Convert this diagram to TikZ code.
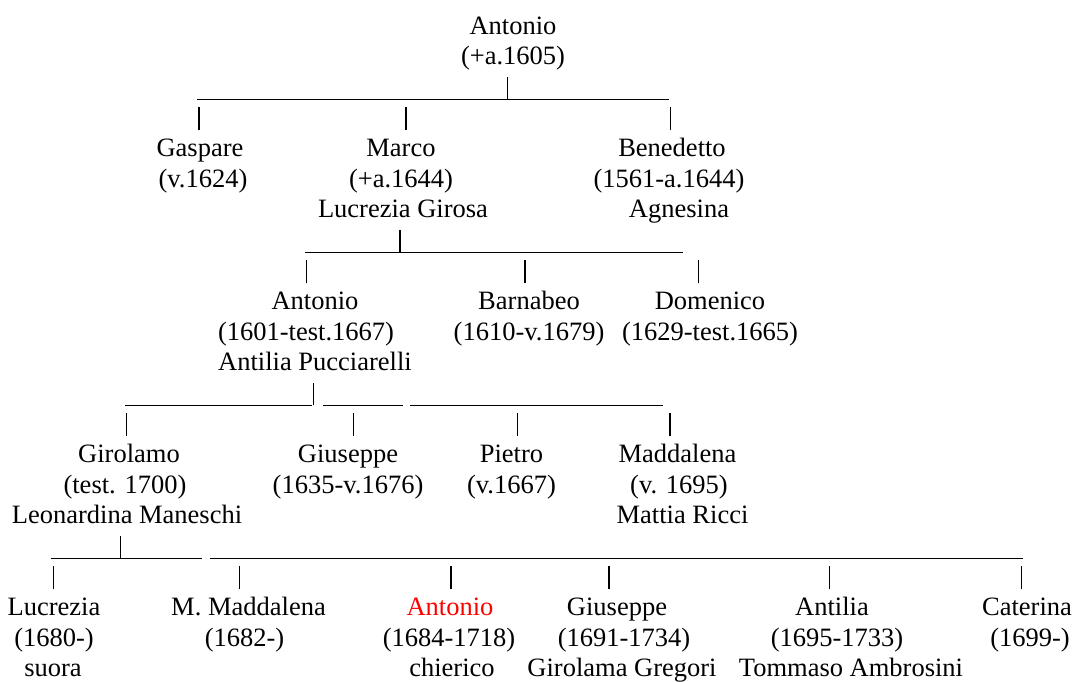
\documentclass[tikz,border=0pt]{standalone}
\usepackage{fontspec}
\setmainfont{Liberation Serif}
\newcommand{\Ln}[2]{\makebox[0pt]{\hspace*{#1bp}\hspace*{#1bp}\rule{0pt}{22bp}#2}}
\tikzset{
  person/.style={anchor=north, align=center, inner sep=0pt,
    font=\fontsize{26.5bp}{30.6bp}\selectfont},
  bar/.style={line width=1.2bp, black},
}
\begin{document}
\begin{tikzpicture}[x=1bp, y=-1bp]
\useasboundingbox (0,0) rectangle (1075,682);
\fill[white] (0,0) rectangle (1075,682);

% ---------- generation 0
\node[person] (root) at (513,12) {\Ln{0}{Antonio}\\\Ln{0}{(+a.1605)}};
\coordinate (j1) at (507.3,99.3);
\coordinate (h1l) at (197,99.3);
\coordinate (h1r) at (669,99.3);
\draw[bar] (h1l) -- (h1r);
\draw[bar] (j1) -- ++(0,-22);

% ---------- generation 1
\node[person] (gaspare) at (201,134.3) {\Ln{-1}{Gaspare}\\\Ln{2}{(v.1624)}};
\node[person] (marco) at (401,134.3) {\Ln{0}{Marco}\\\Ln{0}{(+a.1644)}\\\Ln{2}{Lucrezia Girosa}};
\node[person] (benedetto) at (672,134.3) {\Ln{0}{Benedetto}\\\Ln{-3}{(1561-a.1644)}\\\Ln{7}{Agnesina}};
\draw[bar] (gaspare.north) ++(-2,-4) -- ++(0,-23);
\draw[bar] (marco.north) ++(5,-4) -- ++(0,-23);
\draw[bar] (benedetto.north) ++(-1.3,-4) -- ++(0,-23);

\coordinate (j2) at (400,252.3);
\coordinate (h2l) at (305,252.3);
\coordinate (h2r) at (683.3,252.3);
\draw[bar] (h2l) -- (h2r);
\draw[bar] (j2) -- ++(0,-22);

% ---------- generation 2
\node[person] (antonio2) at (312,287.3) {\Ln{3}{Antonio}\\\Ln{-6}{(1601-test.1667)}\\\Ln{3}{Antilia Pucciarelli}};
\node[person] (barnabeo) at (529,287.3) {\Ln{0}{Barnabeo}\\\Ln{0}{(1610-v.1679)}};
\node[person] (domenico) at (710,287.3) {\Ln{0}{Domenico}\\\Ln{0}{(1629-test.1665)}};
\draw[bar] (antonio2.north) ++(-5.3,-4) -- ++(0,-23);
\draw[bar] (barnabeo.north) ++(-4,-4) -- ++(0,-23);
\draw[bar] (domenico.north) ++(-11.7,-4) -- ++(0,-23);

\coordinate (j3) at (313.3,405.3);
\coordinate (h3a) at (125,405.3);
\coordinate (h3b) at (311.7,405.3);
\coordinate (h3c) at (323.3,405.3);
\coordinate (h3d) at (403.3,405.3);
\coordinate (h3e) at (410,405.3);
\coordinate (h3f) at (663.3,405.3);
\draw[bar] (h3a) -- (h3b);
\draw[bar] (h3c) -- (h3d);
\draw[bar] (h3e) -- (h3f);
\draw[bar] (j3) -- ++(0,-22);

% ---------- generation 3
\node[person] (girolamo) at (127,440.3) {\Ln{2}{Girolamo}\\\Ln{-2}{(test. 1700)}\\\Ln{0}{Leonardina Maneschi}};
\node[person] (giuseppe1) at (348,440.3) {\Ln{0}{Giuseppe}\\\Ln{0}{(1635-v.1676)}};
\node[person] (pietro) at (511.5,440.3) {\Ln{0}{Pietro}\\\Ln{0}{(v.1667)}};
\node[person] (maddalena) at (679,440.3) {\Ln{-1.5}{Maddalena}\\\Ln{0}{(v. 1695)}\\\Ln{3.5}{Mattia Ricci}};
\draw[bar] (girolamo.north) ++(-0.3,-4) -- ++(0,-23);
\draw[bar] (giuseppe1.north) ++(5.3,-4) -- ++(0,-23);
\draw[bar] (pietro.north) ++(6.2,-4) -- ++(0,-23);
\draw[bar] (maddalena.north) ++(-9,-4) -- ++(0,-23);

\coordinate (j4) at (120.7,558.3);
\coordinate (h4a) at (50.7,558.3);
\coordinate (h4b) at (201.7,558.3);
\coordinate (h4c) at (210,558.3);
\coordinate (h4d) at (1023,558.3);
\draw[bar] (h4a) -- (h4b);
\draw[bar] (h4c) -- (h4d);
\draw[bar] (j4) -- ++(0,-22);

% ---------- generation 4
\node[person] (lucrezia) at (54,593.3) {\Ln{0}{Lucrezia}\\\Ln{0}{(1680-)}\\\Ln{-1}{suora}};
\node[person] (mmaddalena) at (247,593.3) {\Ln{1.5}{M. Maddalena}\\\Ln{-2.5}{(1682-)}};
\node[person, text=red] (antonio4) at (450,593.3) {\Ln{0}{Antonio}};
\node[person, anchor=north] (antonio4b) at (450,623.9) {\Ln{-1}{(1684-1718)}\\\Ln{2}{chierico}};
\node[person] (giuseppe2) at (621,593.3) {\Ln{-4}{Giuseppe}\\\Ln{3}{(1691-1734)}\\\Ln{1}{Girolama Gregori}};
\node[person] (antilia) at (837,593.3) {\Ln{-5}{Antilia}\\\Ln{0}{(1695-1733)}\\\Ln{14}{Tommaso Ambrosini}};
\node[person] (caterina) at (1028,593.3) {\Ln{-1}{Caterina}\\\Ln{2}{(1699-)}};
\draw[bar] (lucrezia.north) ++(-0.7,-4) -- ++(0,-23);
\draw[bar] (mmaddalena.north) ++(-7.7,-4) -- ++(0,-23);
\draw[bar] (antonio4.north) ++(1,-4) -- ++(0,-23);
\draw[bar] (giuseppe2.north) ++(-12,-4) -- ++(0,-23);
\draw[bar] (antilia.north) ++(-7.4,-4) -- ++(0,-23);
\draw[bar] (caterina.north) ++(-6.5,-4) -- ++(0,-23);
\end{tikzpicture}
\end{document}
